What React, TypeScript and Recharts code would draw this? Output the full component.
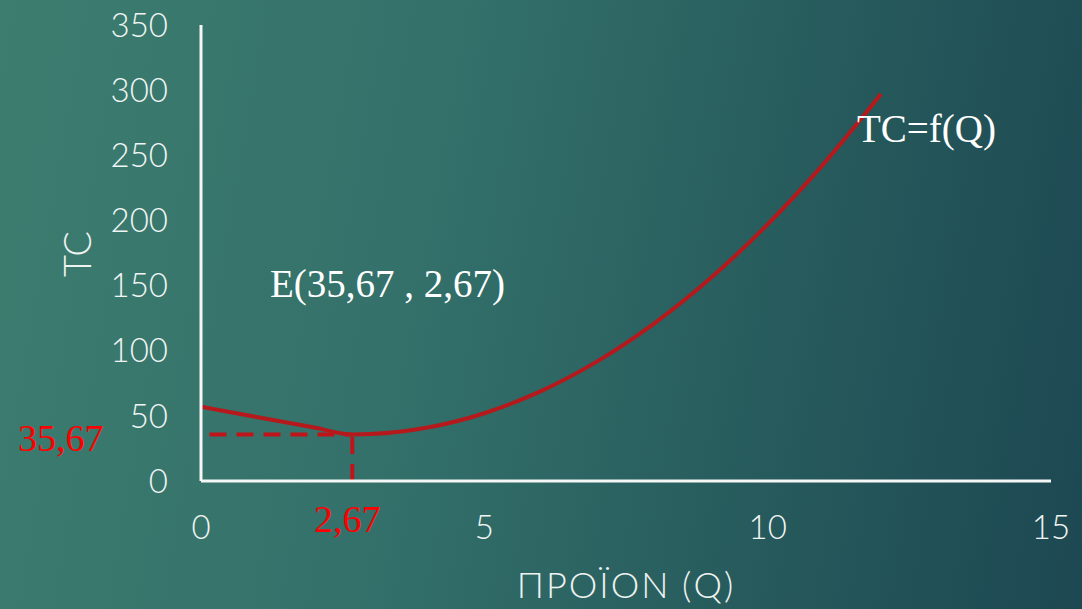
import React from 'react';
import { LineChart, Line, XAxis, YAxis, ReferenceLine } from 'recharts';

const qValues = [0, 1, 2, 2.67, 3, 4, 5, 6, 7, 8, 9, 10, 11, 12];
const tcValues = [57, 49, 41, 35.67, 36, 41, 52, 69, 92, 121, 156, 197, 244, 297];
const xTicks = [0, 5, 10, 15];
const yTicks = [0, 50, 100, 150, 200, 250, 300, 350];
const minQ = 2.67;
const minTC = 35.67;

const data = qValues.map((q, i) => ({ q, tc: tcValues[i] }));

const tickStyle = { fill: '#f1f5f3', fontSize: 33, fontFamily: 'Lato', fontWeight: 300 };
const axisLineStyle = { stroke: '#f4f7f6', strokeWidth: 3 };

export default function App() {
  return (
    <div
      style={{
        position: 'fixed',
        left: 0,
        top: 0,
        width: 1082,
        height: 609,
        background: 'linear-gradient(100deg, #3d7d6f 0%, #33706a 40%, #25585b 75%, #1d4852 100%)',
        overflow: 'hidden',
      }}
    >
      <LineChart
        width={1082}
        height={609}
        data={data}
        margin={{ top: 25, right: 31, bottom: 68, left: 101 }}
      >
        <XAxis
          dataKey="q"
          type="number"
          domain={[0, 15]}
          ticks={xTicks}
          allowDataOverflow
          axisLine={axisLineStyle}
          tickLine={false}
          tickSize={0}
          tickMargin={35}
          height={60}
          tick={tickStyle}
        />
        <YAxis
          type="number"
          domain={[0, 350]}
          ticks={yTicks}
          axisLine={axisLineStyle}
          tickLine={false}
          tickSize={0}
          tickMargin={33}
          width={100}
          tick={tickStyle}
        />
        <ReferenceLine
          segment={[{ x: 0.15, y: minTC }, { x: minQ, y: minTC }]}
          stroke="#c0141b"
          strokeWidth={4}
          strokeDasharray="17 10"
        />
        <ReferenceLine
          segment={[{ x: minQ, y: 0 }, { x: minQ, y: minTC }]}
          stroke="#c0141b"
          strokeWidth={4}
          strokeDasharray="17 10"
        />
        <Line
          dataKey="tc"
          type="monotone"
          stroke="#b5191c"
          strokeWidth={4}
          dot={false}
          activeDot={false}
          isAnimationActive={false}
        />
      </LineChart>
      <svg
        width={1082}
        height={609}
        style={{ position: 'absolute', left: 0, top: 0, pointerEvents: 'none' }}
      >
        <text
          x={76}
          y={254}
          textAnchor="middle"
          dominantBaseline="central"
          transform="rotate(-90 76 254)"
          fill="#eef3f1"
          fontFamily="Lato"
          fontWeight={300}
          fontSize={38}
        >
          TC
        </text>
        <text
          x={626}
          y={598}
          textAnchor="middle"
          fill="#eef3f1"
          fontFamily="Lato"
          fontWeight={300}
          fontSize={36}
          letterSpacing={2}
        >
          ΠΡΟΪΟΝ (Q)
        </text>
        <text x={270} y={297} fill="#ffffff" fontFamily="Liberation Serif" fontSize={39}>
          E(35,67 , 2,67)
        </text>
        <text x={857} y={142} fill="#ffffff" fontFamily="Liberation Serif" fontSize={39}>
          TC=f(Q)
        </text>
        <text x={18} y={451} fill="#ff0000" fontFamily="Liberation Serif" fontSize={38}>
          35,67
        </text>
        <text x={314} y={532} fill="#ff0000" fontFamily="Liberation Serif" fontSize={38}>
          2,67
        </text>
      </svg>
    </div>
  );
}
